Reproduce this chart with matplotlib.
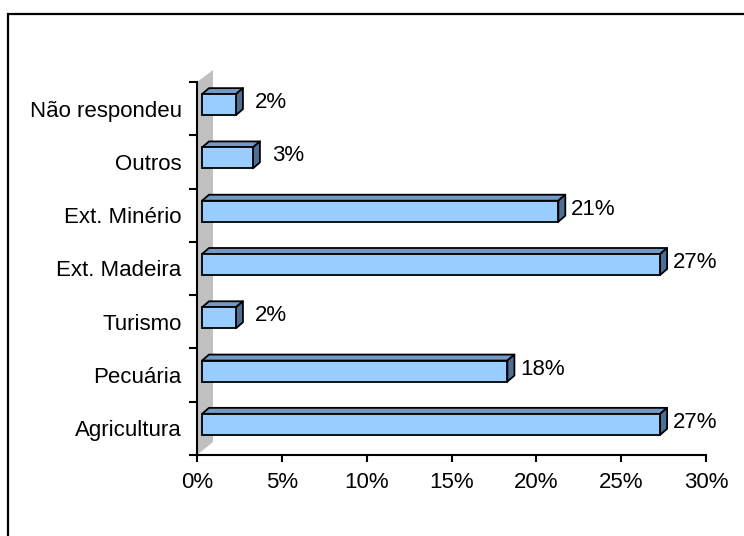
import matplotlib
matplotlib.use("Agg")
import matplotlib.pyplot as plt
from matplotlib.patches import Polygon, Rectangle

plt.rcParams['font.family'] = ['Liberation Sans', 'DejaVu Sans']

# Activities, bottom to top
categories = ["Agricultura", "Pecuária", "Turismo", "Ext. Madeira",
              "Ext. Minério", "Outros", "Não respondeu"]
values = [27, 18, 2, 27, 21, 3, 2]
value_labels = ["27%", "18%", "2%", "27%", "21%", "3%", "2%"]
xticks = [0, 5, 10, 15, 20, 25, 30]
xtick_labels = ["0%", "5%", "10%", "15%", "20%", "25%", "30%"]

FW, FH, DPI = 744, 536, 100
fig = plt.figure(figsize=(FW / DPI, FH / DPI), dpi=DPI)

# plot area in pixels
ax_left, ax_right, ax_top, ax_bottom = 197, 706, 82, 455
ax = fig.add_axes([ax_left / FW, (FH - ax_bottom) / FH,
                   (ax_right - ax_left) / FW, (ax_bottom - ax_top) / FH])
ax.set_xlim(0, 30)
ax.set_ylim(0, len(categories))

per_x = (ax_right - ax_left) / 30.0
per_y = (ax_bottom - ax_top) / len(categories)


def dx(p):
    return p / per_x


def dy(p):
    return p / per_y


# outer chart frame (continues past the right and bottom edges)
fig.patches.append(Rectangle((8 / FW, -0.2), 1.5, 0.2 + (FH - 14) / FH,
                             transform=fig.transFigure, fill=False,
                             edgecolor="black", linewidth=1.6, zorder=0))

# back wall seen in perspective
wd_x, wd_y = 16, 12
wall = Polygon([(0, 0), (dx(wd_x), dy(wd_y + 1)),
                (dx(wd_x), len(categories) + dy(wd_y)), (0, len(categories))],
               closed=True, facecolor="#C0C0C0", edgecolor="none",
               clip_on=False, zorder=1)
ax.add_patch(wall)

# 3D bars
off_x, off_y = 5, 4          # front face offset from axis plane (px)
dep_x, dep_y = 7, 6          # bar depth (px)
bar_h = 21                   # front face height (px)
front_c, top_c, side_c = "#99CCFF", "#7399C6", "#4F6E93"
lw = 1.3

for i, (v, lab) in enumerate(zip(values, value_labels)):
    cy = i + 0.5 + dy(off_y)
    y0, y1 = cy - dy(bar_h / 2), cy + dy(bar_h / 2)
    x0, x1 = dx(off_x), v + dx(off_x)
    ddx, ddy = dx(dep_x), dy(dep_y)
    top = Polygon([(x0, y1), (x1, y1), (x1 + ddx, y1 + ddy), (x0 + ddx, y1 + ddy)],
                  closed=True, facecolor=top_c, edgecolor="black",
                  linewidth=lw, joinstyle="round", zorder=3, clip_on=False)
    side = Polygon([(x1, y0), (x1 + ddx, y0 + ddy), (x1 + ddx, y1 + ddy), (x1, y1)],
                   closed=True, facecolor=side_c, edgecolor="black",
                   linewidth=lw, joinstyle="round", zorder=3, clip_on=False)
    front = Rectangle((x0, y0), x1 - x0, y1 - y0, facecolor=front_c,
                      edgecolor="black", linewidth=lw, zorder=4, clip_on=False)
    for p in (top, side, front):
        ax.add_patch(p)
    ax.text(x1 + ddx + dx(28), i + 0.5 + dy(0.5), lab, ha="center",
            va="baseline", fontsize=16, color="black", zorder=5)

# axes styling
for s in ("top", "right"):
    ax.spines[s].set_visible(False)
for s in ("left", "bottom"):
    ax.spines[s].set_linewidth(1.5)
    ax.spines[s].set_color("black")
    ax.spines[s].set_zorder(6)

ax.set_xticks(xticks)
ax.set_xticklabels(xtick_labels)
ax.tick_params(axis="x", direction="out", length=5, width=1.5,
               labelsize=16, pad=7)

ax.set_yticks(range(len(categories) + 1))
ax.set_yticklabels([])
ax.set_yticks([i + 0.5 for i in range(len(categories))], minor=True)
ax.set_yticklabels(categories, minor=True)
ax.tick_params(axis="y", which="major", direction="out", length=6, width=1.5)
ax.tick_params(axis="y", which="minor", length=0, labelsize=16, pad=11)

ax.patch.set_visible(False)
fig.savefig("out.png", dpi=DPI, facecolor="white")
